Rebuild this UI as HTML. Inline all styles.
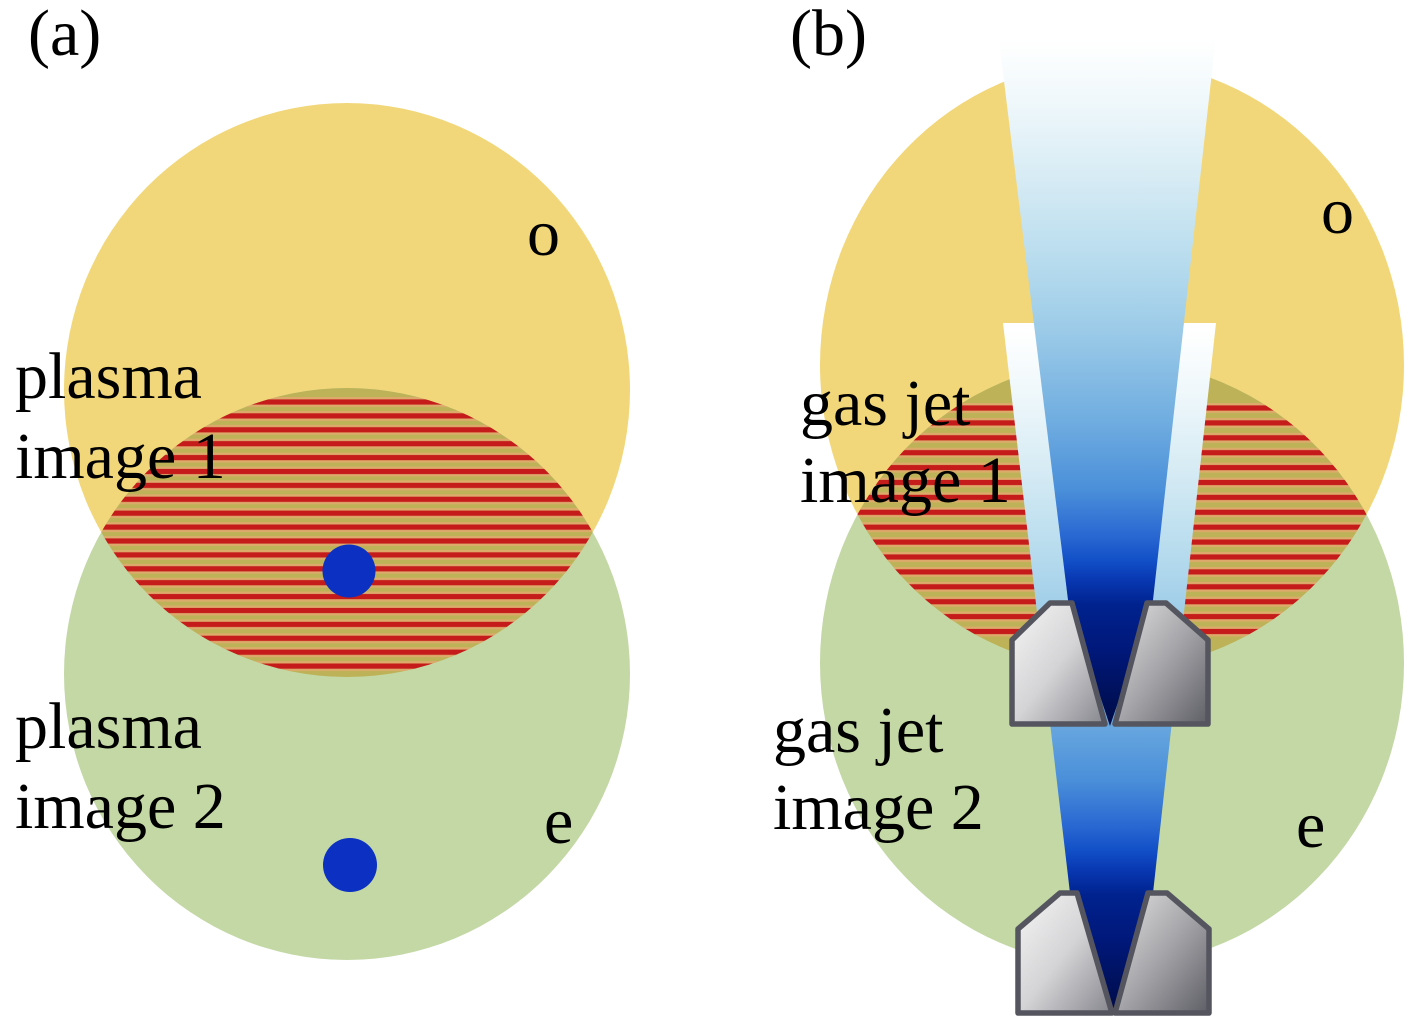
<!DOCTYPE html>
<html>
<head>
<meta charset="utf-8">
<style>
html,body{margin:0;padding:0;background:#fff;}
svg{display:block;}
text{font-family:"Liberation Serif","DejaVu Serif",serif;font-size:66px;fill:#000;}
</style>
</head>
<body>
<svg width="1417" height="1022" viewBox="0 0 1417 1022" xmlns="http://www.w3.org/2000/svg">
<defs>
  <clipPath id="yelA"><ellipse cx="347" cy="390" rx="283" ry="287"/></clipPath>
  <clipPath id="grnA"><ellipse cx="347" cy="674" rx="283" ry="286"/></clipPath>
  <clipPath id="yelB"><ellipse cx="1112" cy="365" rx="292" ry="305"/></clipPath>
  <clipPath id="grnB"><ellipse cx="1112" cy="663" rx="292" ry="303"/></clipPath>

  <pattern id="stripA" patternUnits="userSpaceOnUse" x="0" y="397" width="1417" height="13.9">
    <rect x="0" y="0" width="1417" height="10" fill="#dcaa6a"/>
    <rect x="0" y="2.4" width="1417" height="5.2" fill="#c51b1b"/>
  </pattern>
  <pattern id="stripB" patternUnits="userSpaceOnUse" x="0" y="403" width="1417" height="14.9">
    <rect x="0" y="0" width="1417" height="10" fill="#dcaa6a"/>
    <rect x="0" y="2.4" width="1417" height="5.2" fill="#c51b1b"/>
  </pattern>

  <linearGradient id="beamU" gradientUnits="userSpaceOnUse" x1="0" y1="0" x2="0" y2="722">
    <stop offset="0" stop-color="#ffffff"/>
    <stop offset="0.055" stop-color="#ffffff"/>
    <stop offset="0.1385" stop-color="#f0f8fb"/>
    <stop offset="0.249" stop-color="#d6ebf4"/>
    <stop offset="0.36" stop-color="#b8dcee"/>
    <stop offset="0.457" stop-color="#9ccbe8"/>
    <stop offset="0.582" stop-color="#70ade0"/>
    <stop offset="0.679" stop-color="#4a8fd9"/>
    <stop offset="0.741" stop-color="#2a68d2"/>
    <stop offset="0.776" stop-color="#1250c8"/>
    <stop offset="0.803" stop-color="#0838b2"/>
    <stop offset="0.838" stop-color="#00228e"/>
    <stop offset="0.9" stop-color="#00187a"/>
    <stop offset="1" stop-color="#000c48"/>
  </linearGradient>
  <linearGradient id="beamL" gradientUnits="userSpaceOnUse" x1="0" y1="290" x2="0" y2="1012">
    <stop offset="0" stop-color="#ffffff"/>
    <stop offset="0.055" stop-color="#ffffff"/>
    <stop offset="0.1385" stop-color="#f0f8fb"/>
    <stop offset="0.249" stop-color="#d6ebf4"/>
    <stop offset="0.36" stop-color="#b8dcee"/>
    <stop offset="0.457" stop-color="#9ccbe8"/>
    <stop offset="0.582" stop-color="#70ade0"/>
    <stop offset="0.679" stop-color="#4a8fd9"/>
    <stop offset="0.741" stop-color="#2a68d2"/>
    <stop offset="0.776" stop-color="#1250c8"/>
    <stop offset="0.803" stop-color="#0838b2"/>
    <stop offset="0.838" stop-color="#00228e"/>
    <stop offset="0.9" stop-color="#00187a"/>
    <stop offset="1" stop-color="#000c48"/>
  </linearGradient>

  <linearGradient id="blkL" x1="0" y1="0" x2="1" y2="1">
    <stop offset="0" stop-color="#f6f6f6"/>
    <stop offset="0.5" stop-color="#d4d4d6"/>
    <stop offset="1" stop-color="#86868e"/>
  </linearGradient>
  <linearGradient id="blkR" x1="0" y1="0" x2="1" y2="1">
    <stop offset="0" stop-color="#e2e2e2"/>
    <stop offset="0.5" stop-color="#a6a6aa"/>
    <stop offset="1" stop-color="#5e5e66"/>
  </linearGradient>
</defs>

<rect x="0" y="0" width="1417" height="1022" fill="#ffffff"/>

<!-- ===== Panel (a) ===== -->
<ellipse cx="347" cy="390" rx="283" ry="287" fill="#f1d77a"/>
<ellipse cx="347" cy="674" rx="283" ry="286" fill="#c3d8a5"/>
<g clip-path="url(#yelA)">
  <ellipse cx="347" cy="674" rx="283" ry="286" fill="#bdb257"/>
  <g clip-path="url(#grnA)">
    <rect x="0" y="397" width="700" height="274" fill="url(#stripA)"/>
  </g>
</g>
<circle cx="349" cy="571" r="26.5" fill="#0b30c2"/>
<circle cx="350" cy="865" r="27" fill="#0b30c2"/>

<text x="28" y="55">(a)</text>
<text x="527" y="255">o</text>
<text x="15" y="398">plasma</text>
<text x="15" y="478">image 1</text>
<text x="15" y="748">plasma</text>
<text x="15" y="828">image 2</text>
<text x="544" y="843">e</text>

<!-- ===== Panel (b) ===== -->
<ellipse cx="1112" cy="365" rx="292" ry="305" fill="#f1d77a"/>
<ellipse cx="1112" cy="663" rx="292" ry="303" fill="#c3d8a5"/>
<g clip-path="url(#yelB)">
  <ellipse cx="1112" cy="663" rx="292" ry="303" fill="#bdb257"/>
  <g clip-path="url(#grnB)">
    <rect x="760" y="403" width="657" height="234" fill="url(#stripB)"/>
  </g>
</g>

<!-- lower (image 2) beam -->
<polygon points="1003,323 1216,323 1153,893 1113,1013 1070,893" fill="url(#beamL)"/>
<!-- upper (image 1) beam -->
<polygon points="994,0 1220,0 1153,600 1110,726 1068,600" fill="url(#beamU)"/>

<!-- upper nozzle -->
<g stroke="#55555f" stroke-width="5.5" stroke-linejoin="round">
  <polygon points="1050,603 1072,603 1105,724 1012,724 1012,640" fill="url(#blkL)"/>
  <polygon points="1147,603 1166,603 1208,640 1208,724 1115,724" fill="url(#blkR)"/>
</g>
<!-- lower nozzle -->
<g stroke="#55555f" stroke-width="5.5" stroke-linejoin="round">
  <polygon points="1060,893 1077,893 1112,1013 1018,1013 1018,929" fill="url(#blkL)"/>
  <polygon points="1148,893 1167,893 1209,929 1209,1013 1115,1013" fill="url(#blkR)"/>
</g>

<text x="790" y="55">(b)</text>
<text x="1321" y="233">o</text>
<text x="800" y="425">gas jet</text>
<text x="800" y="502">image 1</text>
<text x="773" y="752">gas jet</text>
<text x="773" y="829">image 2</text>
<text x="1296" y="847">e</text>
</svg>
</body>
</html>
